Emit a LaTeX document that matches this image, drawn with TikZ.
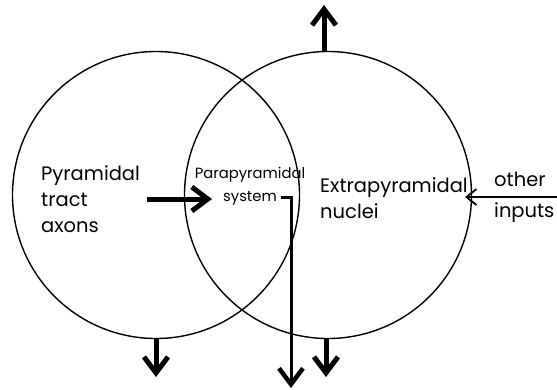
\documentclass[tikz,border=0pt]{standalone}
\usepackage{fontspec}
\setmainfont{Poppins}
\usetikzlibrary{arrows.meta}
\begin{document}
\begin{tikzpicture}[x=1pt,y=-1pt,
  circ/.style={draw, circle, line width=1.4pt, minimum size=287pt, inner sep=0pt},
  fat/.style={line width=5pt, -{Straight Barb[length=16pt,width=24pt,line width=5pt]}},
  mid/.style={line width=3pt, -{Straight Barb[length=16pt,width=24pt,line width=4.5pt]}},
  thin/.style={line width=1.6pt, -{Straight Barb[length=10pt,width=16pt,line width=1.8pt]}},
  big/.style={font=\fontsize{19.5}{26}\selectfont, align=left, inner sep=0pt},
  small/.style={font=\fontsize{14.8}{23}\selectfont, align=center, inner sep=0pt}]
\useasboundingbox (0,0) rectangle (557,389);
\node[circ] (L) at (156,195) {};
\node[circ] (R) at (328,195) {};
\node[big, anchor=west] (pyr) at (41,199) {Pyramidal\\tract\\axons};
\node[small] (para) at (250,186) {Parapyramidal\\system};
\node[big, anchor=west] (extra) at (320,198) {Extrapyramidal\\nuclei};
\node[big, anchor=west, font=\fontsize{19.5}{31}\selectfont] (other) at (494,197) {other\\inputs};
\coordinate (a0) at (147,199);
\coordinate (a1) at (212,199);
\coordinate (t1) at (324,5);
\coordinate (b1) at (156,377);
\coordinate (b2) at (326,377);
\coordinate (s0) at (281,197);
\coordinate (s1) at (291,197);
\coordinate (s2) at (291,388);
\coordinate (o0) at (557,197);
\coordinate (o1) at (465,197);
\draw[fat] (a0) -- (a1);
\draw[fat] ([xshift=-4pt]R.north) -- (t1);
\draw[fat] (L.south) -- (b1);
\draw[fat] ([xshift=-2pt]R.south) -- (b2);
\draw[mid] (s0) -- (s1) -- (s2);
\draw[thin] (o0) -- (o1);
\end{tikzpicture}
\end{document}
